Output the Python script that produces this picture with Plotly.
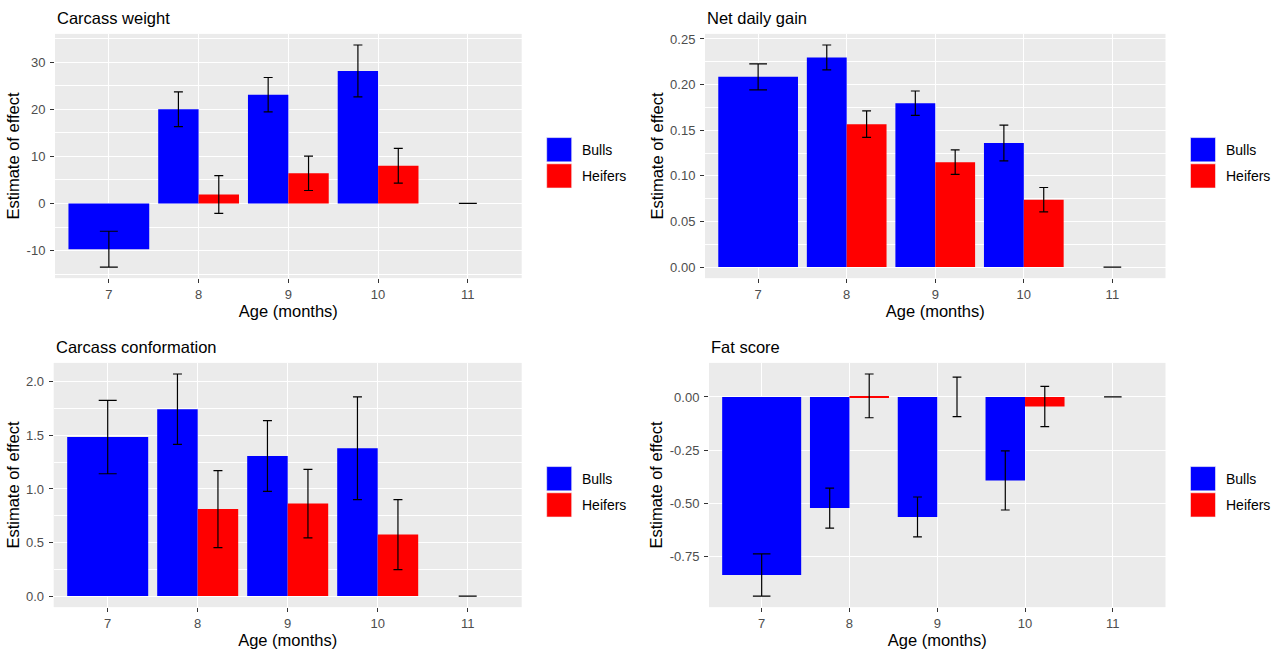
import plotly.graph_objects as go

# ---------------- data ----------------
ages = [7, 8, 9, 10, 11]
groups = ["Bulls", "Heifers"]
group_colors = {"Bulls": "#0000FF", "Heifers": "#FF0000"}

# Carcass weight
cw_bulls = [-9.7, 20.0, 23.1, 28.15, 0.0]
cw_bulls_se = [3.8, 3.7, 3.65, 5.5, 0.0]
cw_heifers = [None, 1.9, 6.4, 8.0, None]
cw_heifers_se = [None, 4.0, 3.65, 3.7, None]
cw_ticks = [-10, 0, 10, 20, 30]
cw_ticklabels = ["-10", "0", "10", "20", "30"]

# Net daily gain
ndg_bulls = [0.2085, 0.2298, 0.1796, 0.136, 0.0]
ndg_bulls_se = [0.0142, 0.0136, 0.0134, 0.0196, 0.0]
ndg_heifers = [None, 0.1566, 0.115, 0.0738, None]
ndg_heifers_se = [None, 0.0145, 0.0135, 0.0134, None]
ndg_ticks = [0.0, 0.05, 0.10, 0.15, 0.20, 0.25]
ndg_ticklabels = ["0.00", "0.05", "0.10", "0.15", "0.20", "0.25"]

# Carcass conformation
cc_bulls = [1.485, 1.745, 1.308, 1.38, 0.0]
cc_bulls_se = [0.343, 0.329, 0.33, 0.48, 0.0]
cc_heifers = [None, 0.812, 0.864, 0.574, None]
cc_heifers_se = [None, 0.36, 0.32, 0.327, None]
cc_ticks = [0.0, 0.5, 1.0, 1.5, 2.0]
cc_ticklabels = ["0.0", "0.5", "1.0", "1.5", "2.0"]

# Fat score
fs_bulls = [-0.838, -0.523, -0.565, -0.393, 0.0]
fs_bulls_se = [0.099, 0.094, 0.094, 0.139, 0.0]
fs_heifers = [None, 0.005, 0.0, -0.045, None]
fs_heifers_se = [None, 0.103, 0.093, 0.095, None]
fs_ticks = [-0.75, -0.50, -0.25, 0.0]
fs_ticklabels = ["-0.75", "-0.50", "-0.25", "0.00"]

panel_titles = ["Carcass weight", "Net daily gain", "Carcass conformation", "Fat score"]
x_title = "Age (months)"
y_title = "Estimate of effect"

# ---------------- layout geometry (pixels in the 1275x653 window) ----------------
W, H = 1275, 653
FONT = "Liberation Sans, Arial, sans-serif"
panels = [
    dict(data=(cw_bulls, cw_bulls_se, cw_heifers, cw_heifers_se), ticks=cw_ticks, tl=cw_ticklabels, minor=5,
         box=(55, 521.7, 32, 277)),
    dict(data=(ndg_bulls, ndg_bulls_se, ndg_heifers, ndg_heifers_se), ticks=ndg_ticks, tl=ndg_ticklabels, minor=0.025,
         box=(705, 1165.5, 32, 277)),
    dict(data=(cc_bulls, cc_bulls_se, cc_heifers, cc_heifers_se), ticks=cc_ticks, tl=cc_ticklabels, minor=0.25,
         box=(53.7, 521.7, 362, 607)),
    dict(data=(fs_bulls, fs_bulls_se, fs_heifers, fs_heifers_se), ticks=fs_ticks, tl=fs_ticklabels, minor=0.25,
         box=(709, 1165.5, 362, 607)),
]

DODGE = 0.9
EB_WIDTH = 0.2
XR = [min(ages) - 0.6, max(ages) + 0.6]

fig = go.Figure()
shapes = []
annotations = []

for k, p in enumerate(panels):
    b_est, b_se, h_est, h_se = p["data"]
    series = {"Bulls": (b_est, b_se), "Heifers": (h_est, h_se)}
    xa = "x" if k == 0 else f"x{k+1}"
    ya = "y" if k == 0 else f"y{k+1}"
    x0, x1, y0, y1 = p["box"]
    px_per_unit = (x1 - x0) / (XR[1] - XR[0])

    present = []
    for i, a in enumerate(ages):
        present.append([g for g in groups if series[g][0][i] is not None])

    lo_vals, hi_vals = [], []
    for g in groups:
        est, se = series[g]
        bx, by, bw, bo = [], [], [], []
        eb = {1: ([], [], []), 2: ([], [], [])}
        for i, a in enumerate(ages):
            if est[i] is None:
                continue
            n = len(present[i])
            j = present[i].index(g)
            w = DODGE / n
            off = -DODGE / 2 + j * w
            bx.append(a); by.append(est[i]); bw.append(w); bo.append(off)
            ex, ey, es = eb[n]
            ex.append(a + off + w / 2); ey.append(est[i]); es.append(se[i])
            lo_vals.append(est[i] - se[i]); hi_vals.append(est[i] + se[i])
            lo_vals.append(0); hi_vals.append(0)
        fig.add_trace(go.Bar(x=bx, y=by, width=bw, offset=bo, name=g,
                             marker=dict(color=group_colors[g], line=dict(width=0)),
                             xaxis=xa, yaxis=ya, showlegend=False))
        for n, (ex, ey, es) in eb.items():
            if not ex:
                continue
            fig.add_trace(go.Scatter(x=ex, y=ey, mode="markers", marker=dict(size=1, opacity=0),
                                     error_y=dict(type="data", array=es, visible=True, color="black",
                                                  thickness=1.2, width=EB_WIDTH / n * px_per_unit / 2),
                                     xaxis=xa, yaxis=ya, showlegend=False, hoverinfo="skip"))

    lo, hi = min(lo_vals), max(hi_vals)
    pad = (hi - lo) * 0.05
    yr = [lo - pad, hi + pad]

    xd = [x0 / W, x1 / W]
    yd = [1 - y1 / H, 1 - y0 / H]
    axis_common = dict(showline=False, zeroline=False, ticks="outside", ticklen=4, tickwidth=1,
                       tickcolor="#333333", gridcolor="white", gridwidth=1.3,
                       tickfont=dict(family=FONT, size=13, color="#4D4D4D"))
    fig.layout[("xaxis" if k == 0 else f"xaxis{k+1}")] = dict(
        domain=xd, range=XR, anchor=ya, tickvals=ages, ticktext=[str(a) for a in ages],
        title=dict(text=x_title, font=dict(family=FONT, size=16.5, color="black"), standoff=4),
        **axis_common)
    fig.layout[("yaxis" if k == 0 else f"yaxis{k+1}")] = dict(
        domain=yd, range=yr, anchor=xa, tickvals=p["ticks"], ticktext=p["tl"],
        ticklabelstandoff=2,
        minor=dict(dtick=p["minor"], tick0=0, showgrid=True, gridcolor="white", gridwidth=0.65, ticks=""),
        title=dict(text=y_title, font=dict(family=FONT, size=16.5, color="black"), standoff=2),
        **axis_common)

    annotations.append(dict(text=panel_titles[k], xref="paper", yref="paper", x=x0 / W, y=1 - (y0 - 16) / H,
                            xanchor="left", yanchor="middle", showarrow=False,
                            font=dict(family=FONT, size=16.5, color="black")))

    kx0 = x1 + 25
    kx1 = kx0 + 25
    for gi, g in enumerate(groups):
        ky0 = (y0 + y1) / 2 - 18.5 + gi * 26.3
        ky1 = ky0 + 24.3
        shapes.append(dict(type="rect", xref="paper", yref="paper", x0=kx0 / W, x1=kx1 / W,
                           y0=1 - ky1 / H, y1=1 - ky0 / H, fillcolor=group_colors[g],
                           line=dict(width=0.6, color="#F2F2F2"), layer="above"))
        annotations.append(dict(text=g, xref="paper", yref="paper", x=(kx1 + 8) / W, y=1 - (ky0 + ky1) / 2 / H,
                                xanchor="left", yanchor="middle", showarrow=False,
                                font=dict(family=FONT, size=14, color="black")))

fig.update_layout(width=W, height=H, margin=dict(l=0, r=0, t=0, b=0),
                  paper_bgcolor="white", plot_bgcolor="#EBEBEB", barmode="overlay",
                  shapes=shapes, annotations=annotations, showlegend=False,
                  font=dict(family=FONT))
fig.write_html("out.html", config={"displayModeBar": False},
               post_script="document.body.style.margin='0px';document.documentElement.style.overflow='hidden';")
